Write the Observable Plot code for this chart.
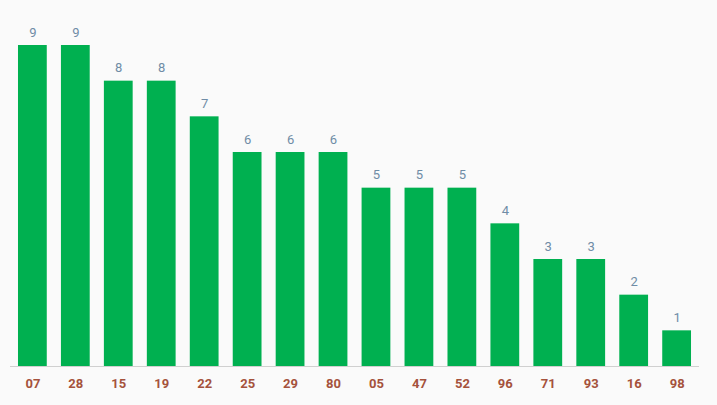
<!DOCTYPE html>
<html>
<head>
<meta charset="utf-8">
<script src="https://cdn.jsdelivr.net/npm/d3@7"></script>
<script src="https://cdn.jsdelivr.net/npm/@observablehq/plot@0.6"></script>
<style>
  html, body { margin: 0; padding: 0; background: #fafafa; }
  #chart svg { display: block; }
</style>
</head>
<body>
<div id="chart"></div>
<script>
const categories = ["07","28","15","19","22","25","29","80","05","47","52","96","71","93","16","98"];
const values = [9,9,8,8,7,6,6,6,5,5,5,4,3,3,2,1];

const data = categories.map((c, i) => ({cat: c, val: values[i]}));

const chart = Plot.plot({
  width: 717,
  height: 405,
  marginTop: 45,
  marginBottom: 39,
  marginLeft: 10,
  marginRight: 18,
  style: {background: "#fafafa", fontFamily: "Roboto, sans-serif"},
  x: {domain: categories, paddingInner: 0.33, paddingOuter: 0.186, round: false, label: null},
  y: {domain: [0, 9], axis: null},
  marks: [
    Plot.barY(data, {x: "cat", y: "val", fill: "#00b050"}),
    Plot.ruleY([0], {stroke: "#d0d0d0", strokeWidth: 1}),
    Plot.text(data, {x: "cat", y: "val", text: d => String(d.val), dy: -13, fill: "#6f8ca6", fontSize: 13}),
    Plot.axisX({tickSize: 0, tickPadding: 12, fontSize: 13, fontWeight: "bold", color: "#a5523c", label: null})
  ]
});
document.getElementById("chart").appendChild(chart);
</script>
</body>
</html>
